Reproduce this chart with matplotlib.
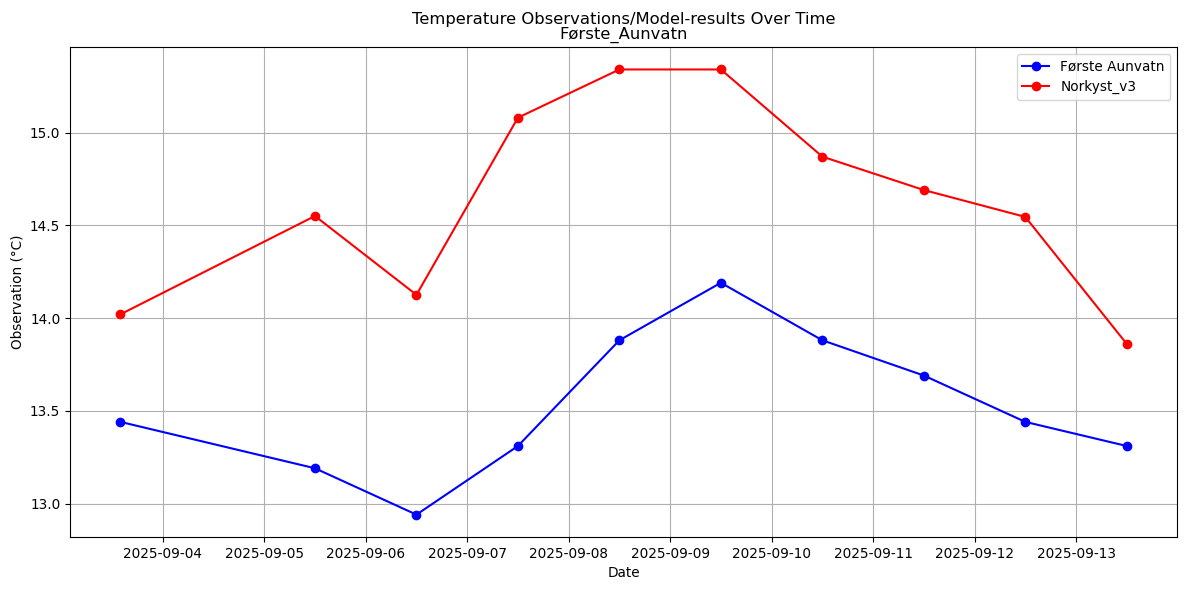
import matplotlib
matplotlib.use("Agg")
import matplotlib.pyplot as plt
import pandas as pd

dates = pd.to_datetime(["2025-09-03 14:00", "2025-09-05 12:00", "2025-09-06 12:00", "2025-09-07 12:00",
                        "2025-09-08 12:00", "2025-09-09 12:00", "2025-09-10 12:00", "2025-09-11 12:00",
                        "2025-09-12 12:00", "2025-09-13 12:00"])
obs = [13.44, 13.19, 12.94, 13.31, 13.88, 14.19, 13.88, 13.69, 13.44, 13.31]
model = [14.02, 14.55, 14.125, 15.08, 15.34, 15.34, 14.87, 14.69, 14.545, 13.86]

plt.rcParams["font.size"] = 9.8
fig, ax = plt.subplots(figsize=(11.89, 5.9), dpi=100)
ax.plot(dates, obs, "o-", color="blue", label="Første Aunvatn")
ax.plot(dates, model, "o-", color="red", label="Norkyst_v3")
ax.set_title("Temperature Observations/Model-results Over Time\nFørste_Aunvatn", fontsize=11.8, linespacing=1.0)
ax.set_xlabel("Date")
ax.set_ylabel("Observation (°C)")
ax.legend(loc="upper right")
ax.grid(True)
fig.subplots_adjust(left=0.059, right=0.990, top=0.920, bottom=0.090)
fig.savefig("out.png")
